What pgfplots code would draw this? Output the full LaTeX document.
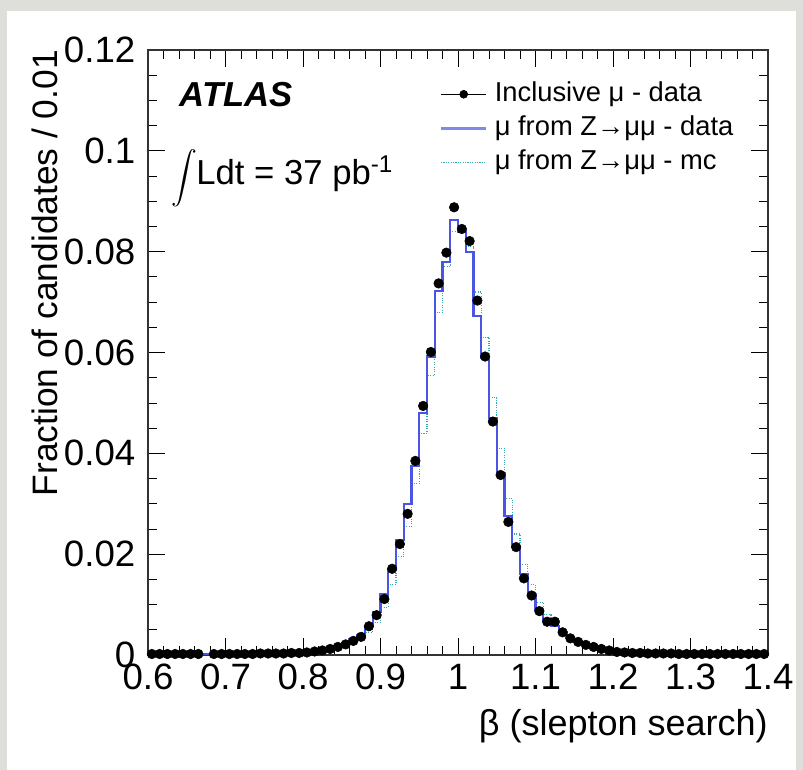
\documentclass[border=0pt]{standalone}
\usepackage{amsmath}
\usepackage{graphicx}
\usepackage{pgfplots}
\pgfplotsset{compat=1.18}
\usepackage{fontspec}
\setmainfont{Liberation Sans}
\definecolor{bgray}{RGB}{222,222,218}
\definecolor{zblue}{RGB}{75,85,225}
\definecolor{mccyan}{RGB}{50,170,175}

\pgfplotstableread{
x y
0.605 0.0002
0.615 0.0002
0.625 0.0002
0.635 0.0002
0.645 0.0002
0.655 0.0002
0.665 0.0002
0.685 0.0002
0.695 0.0002
0.705 0.0002
0.715 0.0002
0.725 0.0002
0.735 0.0002
0.745 0.0003
0.755 0.0003
0.765 0.0003
0.775 0.0003
0.785 0.0004
0.795 0.0004
0.805 0.0005
0.815 0.0007
0.825 0.0009
0.835 0.0012
0.845 0.0016
0.855 0.0021
0.865 0.0028
0.875 0.0036
0.885 0.0057
0.895 0.0079
0.905 0.0111
0.915 0.0171
0.925 0.0220
0.935 0.0280
0.945 0.0385
0.955 0.0494
0.965 0.0601
0.975 0.0737
0.985 0.0798
0.995 0.0888
1.005 0.0845
1.015 0.0821
1.025 0.0703
1.035 0.0592
1.045 0.0463
1.055 0.0357
1.065 0.0264
1.075 0.0214
1.085 0.0152
1.095 0.0118
1.105 0.0087
1.115 0.0066
1.125 0.0066
1.135 0.0045
1.145 0.0033
1.155 0.0026
1.165 0.0020
1.175 0.0016
1.185 0.0012
1.195 0.0009
1.205 0.0006
1.215 0.0005
1.225 0.0004
1.235 0.0004
1.245 0.0003
1.255 0.0003
1.265 0.0003
1.275 0.0003
1.285 0.0002
1.295 0.0002
1.305 0.0002
1.315 0.0002
1.325 0.0002
1.335 0.0002
1.345 0.0002
1.355 0.0002
1.365 0.0002
1.375 0.0002
1.385 0.0002
1.395 0.0002
}\incldata

\pgfplotstableread{
x y
0.60 0.0002
0.61 0.0002
0.62 0.0002
0.63 0.0002
0.64 0.0002
0.65 0.0002
0.66 0.0002
0.67 0.0002
0.68 0.0002
0.69 0.0002
0.70 0.0002
0.71 0.0002
0.72 0.0002
0.73 0.0002
0.74 0.0002
0.75 0.0003
0.76 0.0003
0.77 0.0003
0.78 0.0003
0.79 0.0004
0.80 0.0005
0.81 0.0007
0.82 0.0009
0.83 0.0012
0.84 0.0017
0.85 0.0023
0.86 0.0031
0.87 0.0040
0.88 0.0058
0.89 0.0085
0.90 0.0120
0.91 0.0170
0.92 0.0228
0.93 0.0300
0.94 0.0375
0.95 0.0480
0.96 0.0592
0.97 0.0722
0.98 0.0780
0.99 0.0863
1.00 0.0840
1.01 0.0800
1.02 0.0672
1.03 0.0590
1.04 0.0470
1.05 0.0360
1.06 0.0275
1.07 0.0215
1.08 0.0160
1.09 0.0120
1.10 0.0090
1.11 0.0070
1.12 0.0058
1.13 0.0045
1.14 0.0035
1.15 0.0027
1.16 0.0020
1.17 0.0015
1.18 0.0011
1.19 0.0008
1.20 0.0006
1.21 0.0005
1.22 0.0004
1.23 0.0003
1.24 0.0003
1.25 0.0003
1.26 0.0003
1.27 0.0002
1.28 0.0002
1.29 0.0002
1.30 0.0002
1.31 0.0002
1.32 0.0002
1.33 0.0002
1.34 0.0002
1.35 0.0002
1.36 0.0002
1.37 0.0002
1.38 0.0002
1.39 0.0002
1.40 0.0002
}\zdata

\pgfplotstableread{
x y
0.60 0.0001
0.61 0.0001
0.62 0.0001
0.63 0.0001
0.64 0.0001
0.65 0.0001
0.66 0.0001
0.67 0.0001
0.68 0.0001
0.69 0.0001
0.70 0.0001
0.71 0.0001
0.72 0.0001
0.73 0.0002
0.74 0.0002
0.75 0.0002
0.76 0.0002
0.77 0.0002
0.78 0.0003
0.79 0.0003
0.80 0.0004
0.81 0.0005
0.82 0.0007
0.83 0.0010
0.84 0.0014
0.85 0.0019
0.86 0.0025
0.87 0.0033
0.88 0.0045
0.89 0.0065
0.90 0.0095
0.91 0.0140
0.92 0.0195
0.93 0.0255
0.94 0.0340
0.95 0.0440
0.96 0.0555
0.97 0.0680
0.98 0.0770
0.99 0.0840
1.00 0.0850
1.01 0.0810
1.02 0.0720
1.03 0.0630
1.04 0.0510
1.05 0.0410
1.06 0.0310
1.07 0.0240
1.08 0.0180
1.09 0.0140
1.10 0.0105
1.11 0.0080
1.12 0.0062
1.13 0.0048
1.14 0.0037
1.15 0.0028
1.16 0.0022
1.17 0.0017
1.18 0.0013
1.19 0.0010
1.20 0.0008
1.21 0.0006
1.22 0.0005
1.23 0.0004
1.24 0.0004
1.25 0.0003
1.26 0.0003
1.27 0.0003
1.28 0.0002
1.29 0.0002
1.30 0.0002
1.31 0.0002
1.32 0.0002
1.33 0.0002
1.34 0.0002
1.35 0.0002
1.36 0.0002
1.37 0.0002
1.38 0.0002
1.39 0.0002
1.40 0.0002
}\mcdata

\begin{document}
\begin{tikzpicture}
\fill[bgray] (0,0) rectangle (602.25pt,577.5pt);
\fill[white] (5.25pt,0) rectangle (597pt,569.25pt);
\begin{axis}[
  at={(111pt,86.25pt)}, anchor=south west,
  scale only axis,
  width=465pt, height=453.75pt,
  xmin=0.6, xmax=1.4, ymin=0, ymax=0.12,
  xtick={0.6,0.7,0.8,0.9,1,1.1,1.2,1.3,1.4},
  ytick={0,0.02,0.04,0.06,0.08,0.1,0.12},
  minor x tick num=4, minor y tick num=3,
  xtick pos=both, ytick pos=both,
  tick align=inside,
  major tick length=13pt, minor tick length=6.5pt,
  every tick/.style={black, line width=0.6pt},
  axis line style={black!80, line width=0.8pt},
  scaled y ticks=false, scaled x ticks=false,
  /pgf/number format/assume math mode=true,
  xticklabel style={/pgf/number format/fixed, /pgf/number format/precision=1, yshift=-3.5pt},
  yticklabel style={/pgf/number format/fixed, /pgf/number format/precision=2, xshift=-6pt},
  tick label style={font=\fontsize{27.5}{32}\selectfont},
  xlabel={β (slepton search)},
  xlabel style={at={(rel axis cs:1,0)}, anchor=north east, yshift=-40.5pt, inner sep=0pt,
    font=\fontsize{27}{32}\selectfont},
  ylabel={Fraction of candidates / 0.01},
  ylabel style={at={(axis description cs:-0.166,1)}, anchor=east, inner sep=0pt,
    font=\fontsize{26.5}{31}\selectfont},
  legend style={at={(axis description cs:0.463,0.957)}, anchor=north west,
    draw=none, fill=none, font=\fontsize{20.5}{24}\selectfont,
    nodes={inner sep=1pt, text height=16pt, text depth=5pt},
    row sep=2.5pt, column sep=4pt},
  legend cell align=left,
  reverse legend,
]
\addplot[mccyan, line width=0.8pt, densely dotted, const plot mark left,
  legend image code/.code={\draw[mccyan, line width=0.8pt, densely dotted] (0pt,0pt) -- (34pt,0pt);}]
  table[x=x,y=y] {\mcdata};
\addlegendentry{μ from Z→μμ - mc}
\addplot[zblue, line width=1.6pt, const plot mark left,
  legend image code/.code={\draw[zblue!70, line width=2.6pt] (0pt,0pt) -- (34pt,0pt);}]
  table[x=x,y=y] {\zdata};
\addlegendentry{μ from Z→μμ - data}
\addplot[only marks, mark=*, mark size=3.6pt, black,
  legend image code/.code={\draw[black, line width=0.8pt] (0pt,0pt) -- (34pt,0pt); \fill[black] (17pt,0pt) circle (3pt);}]
  table[x=x,y=y] {\incldata};
\addlegendentry{Inclusive μ - data}
\node[anchor=base west, font=\fontsize{26}{31}\selectfont\bfseries\itshape] at (axis description cs:0.0435,0.906) {ATLAS};
\node[anchor=base west, font=\fontsize{26}{31}\selectfont, inner sep=0pt] at (axis description cs:0.037,0.778) {\scalebox{0.78}{$\displaystyle\int$}\kern-0.5pt Ldt = 37 pb\textsuperscript{-1}};
\end{axis}
\pgfresetboundingbox
\useasboundingbox (0,0) rectangle (602.25pt,577.5pt);
\end{tikzpicture}
\end{document}
